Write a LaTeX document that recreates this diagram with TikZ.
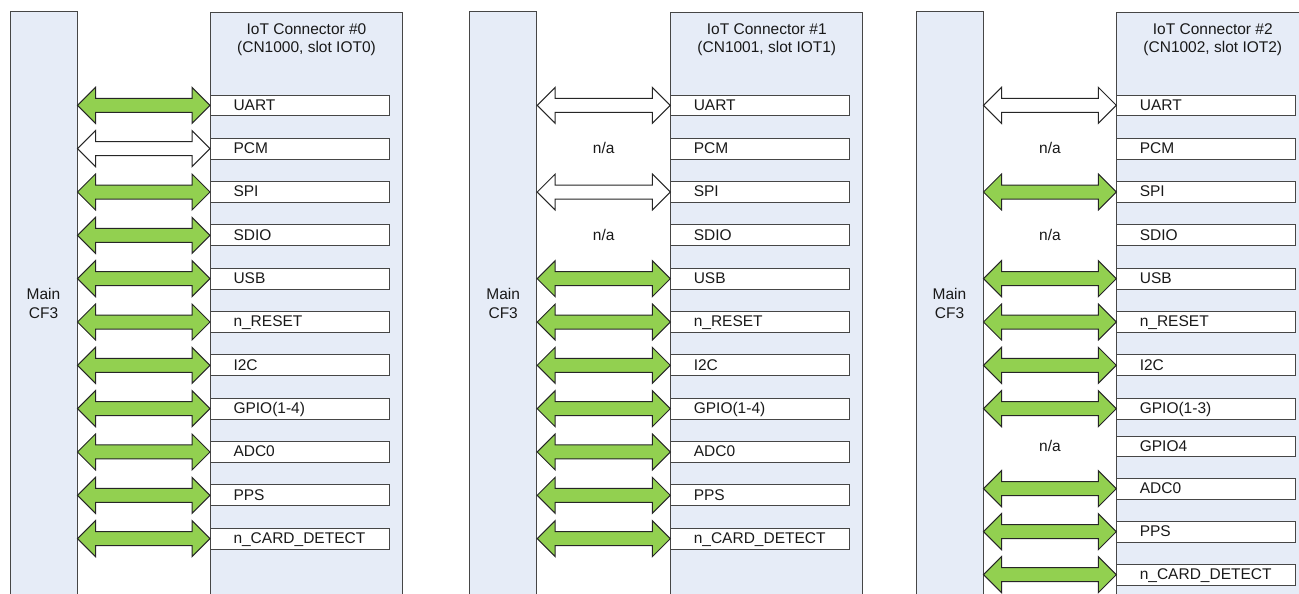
\documentclass[tikz,border=0pt]{standalone}
\usepackage{fontspec}
\setmainfont{Liberation Sans}
\usetikzlibrary{calc}

\definecolor{panelblue}{RGB}{230,236,247}
\definecolor{busgreen}{RGB}{146,208,80}
\definecolor{edgegray}{RGB}{70,70,70}

\tikzset{
  labelfont/.style={font=\fontsize{15.5}{18.7}\selectfont, text=black!90},
  mainbox/.style={draw=edgegray, fill=panelblue, line width=1pt,
    minimum width=67pt, minimum height=583pt, inner sep=0pt,
    align=center, labelfont},
  connbox/.style={draw=edgegray, fill=panelblue, line width=1pt,
    minimum width=192pt, minimum height=583pt, inner sep=0pt,
    anchor=north west},
  titletext/.style={anchor=north, inner sep=0pt, align=center, labelfont},
  slotbox/.style={draw=edgegray, fill=white, line width=1pt, anchor=west,
    minimum width=179pt, minimum height=20.7pt, text width=179pt,
    inner xsep=0pt, inner ysep=0pt, align=left,
    text height=11pt, text depth=1.6pt, labelfont},
  natext/.style={inner sep=0pt, text height=11pt, text depth=1.6pt, labelfont},
  busline/.style={draw=black!85, line width=1pt, line join=miter},
}

% double-headed block arrow between two points on the same row
\newcommand\bidir[3]{%
  \draw[busline, fill=#1] let \p1=(#2), \p2=(#3) in
    (\x1,\y1) -- (\x1+18pt,\y1+18pt) -- (\x1+18pt,\y1+7pt)
    -- (\x2-18pt,\y2+7pt) -- (\x2-18pt,\y2+18pt) -- (\x2,\y2)
    -- (\x2-18pt,\y2-18pt) -- (\x2-18pt,\y2-7pt)
    -- (\x1+18pt,\y1-7pt) -- (\x1+18pt,\y1-18pt) -- cycle;}

\def\naword{na}

% #1 index, #2 main box left, #3 connector box left, #4 title, #5 rows y/label/kind
\newcommand\iotpanel[5]{%
  \node[mainbox] (m#1) at (#2+33.5,-303.5) {Main\\CF3};
  \node[connbox] (c#1) at (#3,-12) {};
  \node[titletext] (t#1) at ([yshift=-11.2pt]c#1.north) {#4};
  \foreach \y/\lbl/\kind [count=\i] in {#5} {
    \node[slotbox] (s#1-\i) at (#3,-\y) {\hspace*{23pt}\lbl};
    \edef\tmp{\kind}%
    \ifx\tmp\naword
      \node[natext] (a#1-\i) at ($(m#1.east |- s#1-\i.west)!0.5!(s#1-\i.west)$) {n/a};
    \else
      \bidir{\kind}{m#1.east |- s#1-\i.west}{s#1-\i.west}
    \fi
  }
}

\begin{document}
\begin{tikzpicture}[x=1pt,y=1pt]
  \useasboundingbox (0,0) rectangle (1299,-594);
  \clip (0,0) rectangle (1299,-594);

  \iotpanel{0}{10}{210}{IoT Connector \#0\\(CN1000, slot IOT0)}{%
    105.35/UART/busgreen, 148.68/PCM/white, 192.01/SPI/busgreen,
    235.34/SDIO/busgreen, 278.67/USB/busgreen, 322.0/n\_RESET/busgreen,
    365.33/I2C/busgreen, 408.66/GPIO(1-4)/busgreen, 451.99/ADC0/busgreen,
    495.32/PPS/busgreen, 538.65/n\_CARD\_DETECT/busgreen}

  \iotpanel{1}{469.7}{670.3}{IoT Connector \#1\\(CN1001, slot IOT1)}{%
    105.35/UART/white, 148.68/PCM/na, 192.01/SPI/white,
    235.34/SDIO/na, 278.67/USB/busgreen, 322.0/n\_RESET/busgreen,
    365.33/I2C/busgreen, 408.66/GPIO(1-4)/busgreen, 451.99/ADC0/busgreen,
    495.32/PPS/busgreen, 538.65/n\_CARD\_DETECT/busgreen}

  \iotpanel{2}{916}{1116.3}{IoT Connector \#2\\(CN1002, slot IOT2)}{%
    105.35/UART/white, 148.68/PCM/na, 192.01/SPI/busgreen,
    235.34/SDIO/na, 278.67/USB/busgreen, 322.0/n\_RESET/busgreen,
    365.33/I2C/busgreen, 408.66/GPIO(1-3)/busgreen, 446.35/GPIO4/na,
    488.65/ADC0/busgreen, 531.65/PPS/busgreen, 574.65/n\_CARD\_DETECT/busgreen}
\end{tikzpicture}
\end{document}
